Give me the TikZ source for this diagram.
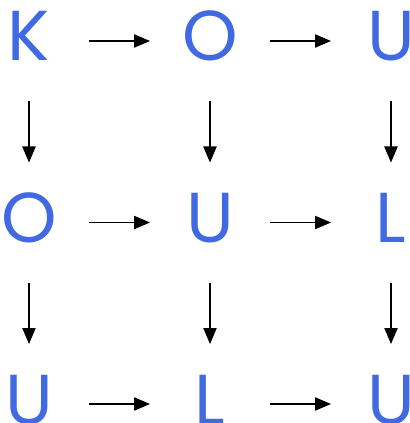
\documentclass[tikz,border=0pt]{standalone}
\usepackage{fontspec}
\setmainfont{Poppins}
\usetikzlibrary{arrows.meta}
\definecolor{royal}{HTML}{4169E1}
\begin{document}
\begin{tikzpicture}[x=0.75pt,y=-0.75pt,
  letter/.style={text=royal, font=\fontsize{53}{53}\selectfont, inner sep=0pt,
    text height=30pt, text depth=0pt, anchor=center},
  arr/.style={line width=0.8pt, -{Triangle[length=12pt,width=10pt]},
    shorten <=45pt, shorten >=45pt}]
\useasboundingbox (0,0) rectangle (409,423);
\node[letter] (a1) at (29,41) {K};
\node[letter] (a2) at (210,41) {O};
\node[letter] (a3) at (391,41) {U};
\node[letter] (b1) at (29,222.5) {O};
\node[letter] (b2) at (210,222.5) {U};
\node[letter] (b3) at (391,222.5) {L};
\node[letter] (c1) at (29,404) {U};
\node[letter] (c2) at (210,404) {L};
\node[letter] (c3) at (391,404) {U};
\foreach \r in {a,b,c}{
  \draw[arr] (\r1.center) -- (\r2.center);
  \draw[arr] (\r2.center) -- (\r3.center);
}
\foreach \c in {1,2,3}{
  \draw[arr] (a\c.center) -- (b\c.center);
  \draw[arr] (b\c.center) -- (c\c.center);
}
\end{tikzpicture}
\end{document}
